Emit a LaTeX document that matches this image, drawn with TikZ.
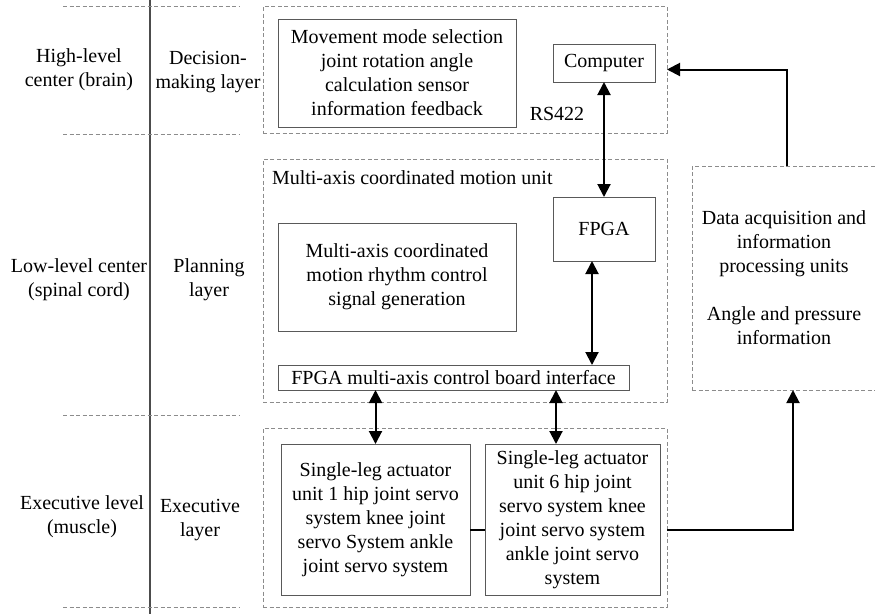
\documentclass[tikz,border=0pt]{standalone}
\usepackage{fontspec}
\setmainfont{Liberation Serif}
\usetikzlibrary{arrows.meta}
\begin{document}
\begin{tikzpicture}[x=1pt,y=-1pt,
  every node/.style={font=\fontsize{20}{24}\selectfont, inner sep=0pt, outer sep=0pt},
  dbox/.style={draw=black!45, dash pattern=on 4pt off 2.5pt, line width=0.8pt, anchor=north west},
  sbox/.style={draw=black!65, line width=0.9pt, anchor=north west, align=center},
  dline/.style={draw=black!45, dash pattern=on 4pt off 2.5pt, line width=0.8pt},
  arr/.style={line width=2pt, -{Triangle[length=13pt,width=13pt]}},
  darr/.style={line width=2pt, {Triangle[length=13pt,width=13pt]}-{Triangle[length=13pt,width=13pt]}},
  plain/.style={line width=2pt},
  lbl/.style={align=center}]
\useasboundingbox (0,0) rectangle (875,614);
% left grid
\draw[black!70, line width=1.2pt] (150,0) -- (150,614);
\draw[dline] (63,6) -- (240,6);
\draw[dline] (63,134) -- (240,134);
\draw[dline] (63,415) -- (240,415);
\draw[dline] (63,607) -- (240,607);
\node[lbl] (hl) at (79,70) {High-level\\center (brain)};
\node[lbl] (dm) at (208,72) {Decision-\\making layer};
\node[lbl] (ll) at (79,280) {Low-level center\\(spinal cord)};
\node[lbl] (pl) at (209,280) {Planning\\layer};
\node[lbl] (el) at (82,517) {Executive level\\(muscle)};
\node[lbl] (el2) at (200,520) {Executive\\layer};
% dashed containers
\node[dbox, minimum width=404, minimum height=127] (top) at (263,6) {};
\node[dbox, minimum width=404, minimum height=243] (mid) at (263,159) {};
\node[dbox, minimum width=404, minimum height=179] (bot) at (263,428) {};
\node[dbox, minimum width=184, minimum height=224, align=center] (data) at (692,166)
  {Data acquisition and\\information\\processing units\\[24pt]Angle and pressure\\information};
% top layer
\node[sbox, minimum width=238, minimum height=108] (move) at (278,19)
  {Movement mode selection\\joint rotation angle\\calculation sensor\\information feedback};
\node[sbox, minimum width=102, minimum height=38] (comp) at (553,44) {Computer};
\node (rs) at (557,114) {RS422};
% middle layer
\node[anchor=west] (mtitle) at (272,178) {Multi-axis coordinated motion unit};
\node[sbox, minimum width=102, minimum height=64] (fpga) at (553,197) {FPGA};
\node[sbox, minimum width=238, minimum height=108] (rhythm) at (278,223)
  {Multi-axis coordinated\\motion rhythm control\\signal generation};
\node[sbox, minimum width=351, minimum height=25] (iface) at (278,365)
  {FPGA multi-axis control board interface};
% bottom layer
\node[sbox, minimum width=189, minimum height=151] (leg1) at (281,444)
  {Single-leg actuator\\unit 1 hip joint servo\\system knee joint\\servo System ankle\\joint servo system};
\node[sbox, minimum width=175, minimum height=151] (leg6) at (485,444)
  {Single-leg actuator\\unit 6 hip joint\\servo system knee\\joint servo system\\ankle joint servo\\system};
% connectors
\draw[darr] (comp.south) -- (fpga.north);
\draw[darr] ([xshift=-12pt]fpga.south) -- ([xshift=-12pt]fpga.south |- iface.north);
\draw[darr] (leg1.north |- iface.south) -- (leg1.north);
\draw[darr] ([xshift=-16.5pt]leg6.north |- iface.south) -- ([xshift=-16.5pt]leg6.north);
\draw[plain] ([yshift=-10.5pt]leg1.east) -- ([yshift=-10.5pt]leg6.west);
\draw[arr] ([yshift=-12.5pt]bot.east) -| ([xshift=9pt]data.south);
\draw[arr] ([xshift=3pt]data.north) |- (top.east);
\end{tikzpicture}
\end{document}
